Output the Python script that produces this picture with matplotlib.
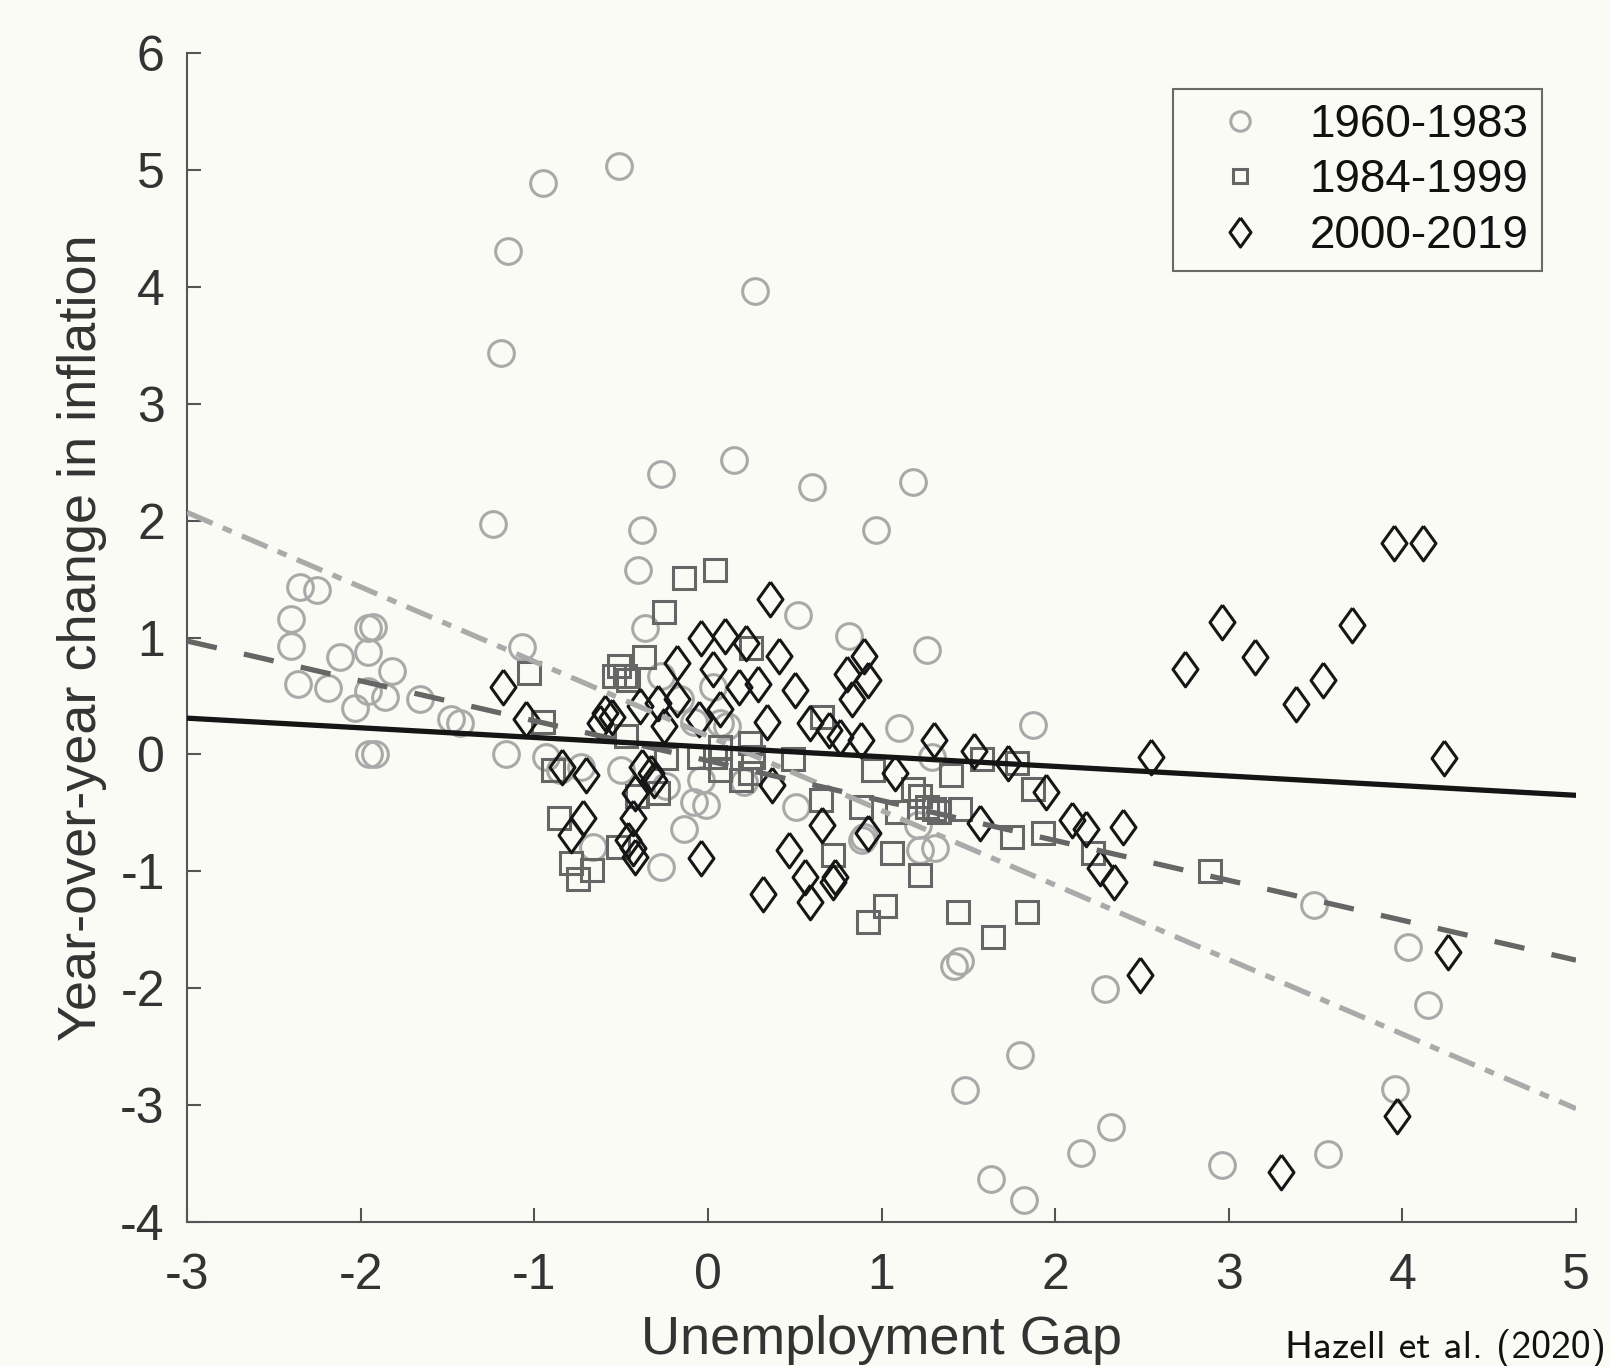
import matplotlib
matplotlib.use("Agg")
import matplotlib.pyplot as plt
from matplotlib.lines import Line2D

# ---------------- data ----------------
c_x = [-0.95, -0.51, -1.15, 0.27, -1.19, 0.15, -0.27, 0.60, 1.18, -1.24, -0.38, 0.97, -0.40, -0.36,
       0.52, 0.81, 1.26, -1.07,
       -2.35, -2.25, -2.40, -2.40, -2.36, -2.19, -2.12, -1.93, -1.96, -1.96, -2.03, -1.96, -1.86,
       -1.82, -1.66, -1.48, -1.43, -1.95, -1.92, -1.16,
       1.87, 1.10, 3.49, 4.03, 4.15, 2.29, 1.42, 1.45, 1.80, 1.48, 2.32, 2.15, 1.63, 1.82, 2.96,
       3.57, 3.96,
       -0.93, -0.85, -0.73, 0.03, -0.27, -0.16, 0.07, 0.11, -0.50, -0.24, -0.04, -0.08, -0.01,
       -0.14, -0.66, -0.27, 0.21, 0.51, 0.89, 1.29, 0.90, 1.21, 1.22, 1.31, -0.08]
c_y = [4.89, 5.03, 4.31, 3.96, 3.43, 2.52, 2.40, 2.29, 2.33, 1.97, 1.92, 1.92, 1.58, 1.08,
       1.19, 1.01, 0.89, 0.92,
       1.43, 1.41, 1.16, 0.93, 0.60, 0.57, 0.83, 1.09, 1.08, 0.88, 0.40, 0.54, 0.49,
       0.71, 0.47, 0.30, 0.27, 0.00, 0.00, 0.00,
       0.25, 0.23, -1.29, -1.65, -2.14, -2.01, -1.81, -1.77, -2.57, -2.87, -3.19, -3.41, -3.63,
       -3.81, -3.51, -3.42, -2.86,
       -0.02, -0.13, -0.11, 0.58, 0.67, 0.47, 0.27, 0.24, -0.13, -0.27, -0.22, -0.41, -0.43,
       -0.64, -0.79, -0.96, -0.24, -0.45, -0.73, -0.02, -0.71, -0.60, -0.82, -0.80, 0.28]

s_x = [-0.14, 0.04, -0.25, -1.03, -0.37, -0.51, -0.54, -0.48, -0.46, 0.25, -0.95, -0.89, -0.47,
       -0.24, 0.66, -0.05, 0.04, 0.07, 0.24, 0.26, 0.49, 0.07, 0.19, 0.24, -0.41, -0.29, 0.65,
       0.88, 0.95, -0.86, -0.52, -0.79, -0.67, -0.75, 0.72,
       1.09, 1.18, 1.22, 1.26, 1.30, 1.33, 1.45, 1.40, 1.58, 1.78, 1.87, 1.75, 1.93, 2.22, 1.06,
       1.22, 1.02, 0.92, 1.44, 1.84, 1.64, 2.89]
s_y = [1.51, 1.58, 1.22, 0.70, 0.83, 0.76, 0.67, 0.67, 0.64, 0.91, 0.28, -0.13, 0.16,
       -0.03, 0.32, -0.02, -0.02, 0.06, 0.10, -0.02, -0.04, -0.13, -0.22, -0.16, -0.36, -0.33, -0.39,
       -0.45, -0.13, -0.54, -0.79, -0.93, -0.99, -1.07, -0.86,
       -0.49, -0.30, -0.36, -0.45, -0.47, -0.49, -0.47, -0.18, -0.04, -0.07, -0.30, -0.71, -0.67,
       -0.84, -0.84, -1.03, -1.30, -1.43, -1.35, -1.35, -1.56, -1.00]

d_x = [0.36, -0.04, 0.10, 0.22, 0.41, -0.18, 0.03, 0.18, 0.29, 0.50, -1.18, -1.05, -0.59, -0.62,
       -0.55, -0.39, -0.29, -0.18, -0.05, -0.25, 0.07, 0.34, 0.59, 0.70, 0.76, 0.88, 0.80, 0.90,
       0.92, 0.83,
       -0.84, -0.70, -0.38, -0.33, -0.31, -0.42, -0.72, -0.79, -0.43, -0.46, -0.43, -0.42, 0.37,
       -0.04, 0.66, 0.92, 0.47, 0.56, 0.73, 0.32, 0.59, 0.72,
       1.30, 1.53, 1.73, 1.08, 2.55, 1.95, 1.57, 2.10, 2.18, 2.39, 2.26, 2.34,
       2.75, 2.96, 3.15, 3.39, 3.54, 3.71, 3.95, 4.12, 4.24, 4.26, 3.97, 3.30, 2.49]
d_y = [1.33, 1.00, 1.01, 0.95, 0.84, 0.78, 0.73, 0.58, 0.60, 0.55, 0.58, 0.30, 0.35, 0.27,
       0.32, 0.41, 0.44, 0.47, 0.30, 0.24, 0.39, 0.28, 0.27, 0.21, 0.15, 0.12, 0.69, 0.84,
       0.64, 0.47,
       -0.11, -0.18, -0.11, -0.16, -0.22, -0.33, -0.54, -0.69, -0.54, -0.73, -0.80, -0.88, -0.26,
       -0.89, -0.60, -0.67, -0.82, -1.05, -1.05, -1.19, -1.26, -1.09,
       0.12, 0.03, -0.07, -0.16, -0.02, -0.32, -0.59, -0.56, -0.64, -0.62, -0.97, -1.09,
       0.73, 1.13, 0.83, 0.43, 0.64, 1.11, 1.81, 1.81, -0.03, -1.69, -3.09, -3.57, -1.89]

# fitted lines (end points)
fit_x = [-3, 5]
fit_1960 = [2.07, -3.03]
fit_1984 = [0.97, -1.76]
fit_2000 = [0.31, -0.35]

labels = ["1960-1983", "1984-1999", "2000-2019"]
x_ticks = [-3, -2, -1, 0, 1, 2, 3, 4, 5]
y_ticks = [-4, -3, -2, -1, 0, 1, 2, 3, 4, 5, 6]

# ---------------- style ----------------
bg = "#fbfbf6"
col_c = "#a9a9a9"
col_s = "#666666"
col_d = "#161616"
plt.rcParams["font.family"] = ["Liberation Sans", "DejaVu Sans"]
plt.rcParams["lines.scale_dashes"] = False

fig = plt.figure(figsize=(16.10, 13.66), dpi=100, facecolor=bg)
ax = fig.add_axes([187/1610, 1-1222/1366, (1576-187)/1610, (1222-53)/1366])
ax.set_facecolor(bg)

diamond = [(0, 1), (0.72, 0), (0, -1), (-0.72, 0), (0, 1)]

ax.plot(c_x, c_y, ls="none", marker="o", ms=18.5, mfc="none", mec=col_c, mew=2.2, zorder=2)
ax.plot(s_x, s_y, ls="none", marker="s", ms=15.5, mfc="none", mec=col_s, mew=2.2, zorder=3)
ax.plot(d_x, d_y, ls="none", marker=diamond, ms=25, mfc="none", mec=col_d, mew=2.2, zorder=4)

ax.plot(fit_x, fit_1960, color="#aaaaaa", lw=3.8, ls=(0, (20, 8, 7, 8)), zorder=5)
ax.plot(fit_x, fit_1984, color="#666666", lw=3.8, ls=(0, (22, 20)), zorder=5)
ax.plot(fit_x, fit_2000, color="#151515", lw=3.8, ls="-", zorder=5)

ax.set_xlim(-3, 5)
ax.set_ylim(-4, 6)
ax.set_xticks(x_ticks)
ax.set_yticks(y_ticks)
ax.set_xticklabels([str(v) for v in x_ticks])
ax.set_yticklabels([str(v) for v in y_ticks])
for sp in ["top", "right"]:
    ax.spines[sp].set_visible(False)
for sp in ["left", "bottom"]:
    ax.spines[sp].set_color("#555555")
    ax.spines[sp].set_linewidth(1.5)
ax.tick_params(direction="in", length=10, width=1.5, color="#555555",
               labelsize=36, labelcolor="#333333")
ax.tick_params(axis="x", pad=22)
ax.tick_params(axis="y", pad=16)

ax.set_xlabel("Unemployment Gap", fontsize=39, color="#333333", labelpad=12)
ax.set_ylabel("Year-over-year change in inflation", fontsize=39, color="#333333", labelpad=9.5)

handles = [
    Line2D([], [], ls="none", marker="o", ms=14, mfc="none", mec=col_c, mew=2.2),
    Line2D([], [], ls="none", marker="s", ms=10, mfc="none", mec=col_s, mew=2.2),
    Line2D([], [], ls="none", marker=diamond, ms=21, mfc="none", mec=col_d, mew=2.2),
]
leg = ax.legend(handles, labels, loc="upper right",
                bbox_to_anchor=(1542/1610, 1-89/1366), bbox_transform=fig.transFigure,
                fontsize=33, frameon=True, fancybox=False, handletextpad=0.34,
                borderpad=0.3, labelspacing=0.25, handlelength=2.33, borderaxespad=0)
leg.get_frame().set_edgecolor("#444444")
leg.get_frame().set_linewidth(1.5)
leg.get_frame().set_facecolor(bg)
for t in leg.get_texts():
    t.set_color("#111111")

fig.text(1606/1610, 1-1358/1366, "Hazell et al. (2020)", family="cmss10", fontsize=28.5,
         ha="right", va="baseline", color="#111111")

fig.savefig("out.png", dpi=100, facecolor=bg)
